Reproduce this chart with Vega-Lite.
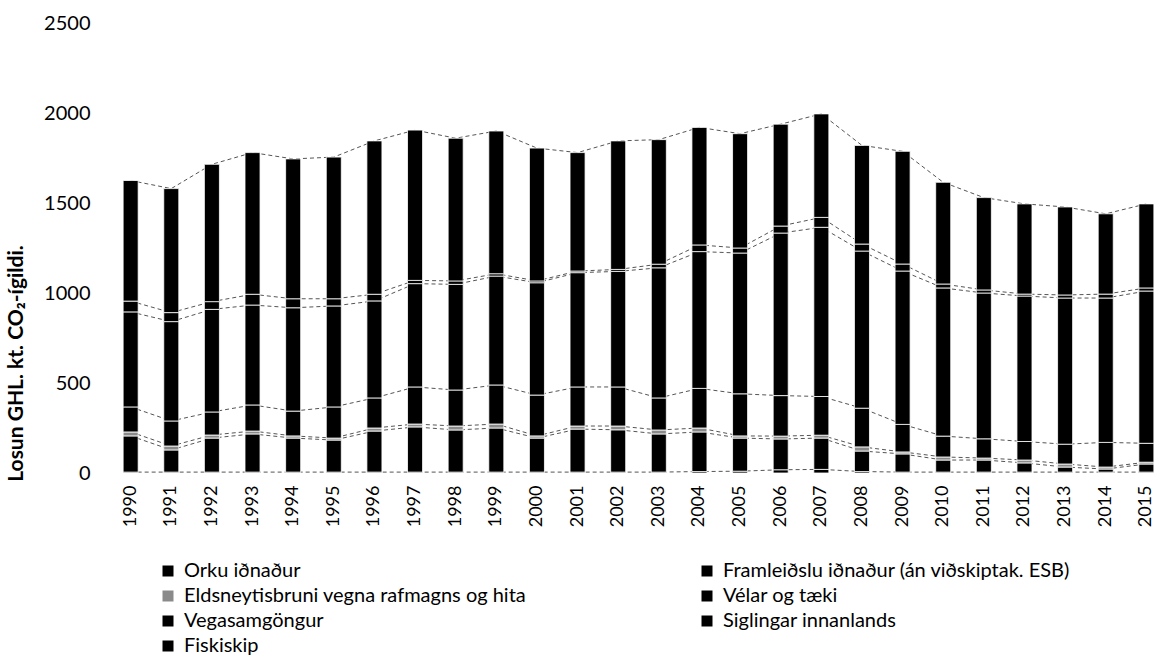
{
  "$schema": "https://vega.github.io/schema/vega-lite/v6.json",
  "autosize": "none",
  "width": 1047,
  "height": 450,
  "padding": {"left": 115, "top": 23, "right": 2, "bottom": 198},
  "background": "white",
  "config": {
    "view": {"stroke": null},
    "font": "Lato",
    "axis": {"labelFont": "Lato", "titleFont": "Lato", "labelColor": "#000", "titleColor": "#000"},
    "legend": {"labelFont": "Lato"}
  },
  "datasets": {
    "series": [
      {"k": "o", "name": "Orku iðnaður", "i": 1},
      {"k": "f", "name": "Framleiðslu iðnaður (án viðskiptak. ESB)", "i": 2},
      {"k": "e", "name": "Eldsneytisbruni vegna rafmagns og hita", "i": 3},
      {"k": "v", "name": "Vélar og tæki", "i": 4},
      {"k": "g", "name": "Vegasamgöngur", "i": 5},
      {"k": "s", "name": "Siglingar innanlands", "i": 6},
      {"k": "fi", "name": "Fiskiskip", "i": 7}
    ]
  },
  "data": {
    "values": [
      {"year": 1990, "o": 5, "f": 201, "e": 22, "v": 139, "g": 528, "s": 60, "fi": 670},
      {"year": 1991, "o": 5, "f": 123, "e": 22, "v": 139, "g": 552, "s": 50, "fi": 689},
      {"year": 1992, "o": 5, "f": 189, "e": 17, "v": 128, "g": 570, "s": 43, "fi": 763},
      {"year": 1993, "o": 5, "f": 212, "e": 16, "v": 145, "g": 555, "s": 60, "fi": 787},
      {"year": 1994, "o": 5, "f": 189, "e": 12, "v": 138, "g": 574, "s": 50, "fi": 777},
      {"year": 1995, "o": 5, "f": 178, "e": 11, "v": 173, "g": 561, "s": 40, "fi": 787},
      {"year": 1996, "o": 5, "f": 228, "e": 17, "v": 167, "g": 539, "s": 37, "fi": 852},
      {"year": 1997, "o": 5, "f": 251, "e": 16, "v": 206, "g": 574, "s": 18, "fi": 835},
      {"year": 1998, "o": 5, "f": 234, "e": 22, "v": 200, "g": 587, "s": 19, "fi": 793},
      {"year": 1999, "o": 5, "f": 245, "e": 22, "v": 217, "g": 605, "s": 13, "fi": 793},
      {"year": 2000, "o": 5, "f": 189, "e": 12, "v": 227, "g": 624, "s": 10, "fi": 738},
      {"year": 2001, "o": 5, "f": 239, "e": 17, "v": 217, "g": 635, "s": 9, "fi": 658},
      {"year": 2002, "o": 5, "f": 235, "e": 21, "v": 217, "g": 642, "s": 11, "fi": 714},
      {"year": 2003, "o": 5, "f": 212, "e": 22, "v": 178, "g": 723, "s": 20, "fi": 692},
      {"year": 2004, "o": 8, "f": 220, "e": 22, "v": 220, "g": 760, "s": 37, "fi": 653},
      {"year": 2005, "o": 10, "f": 184, "e": 12, "v": 234, "g": 782, "s": 28, "fi": 635},
      {"year": 2006, "o": 18, "f": 171, "e": 16, "v": 225, "g": 903, "s": 39, "fi": 566},
      {"year": 2007, "o": 20, "f": 174, "e": 16, "v": 215, "g": 940, "s": 55, "fi": 575},
      {"year": 2008, "o": 8, "f": 114, "e": 23, "v": 215, "g": 873, "s": 39, "fi": 548},
      {"year": 2009, "o": 5, "f": 101, "e": 11, "v": 153, "g": 852, "s": 39, "fi": 626},
      {"year": 2010, "o": 5, "f": 67, "e": 17, "v": 116, "g": 823, "s": 22, "fi": 565},
      {"year": 2011, "o": 5, "f": 67, "e": 11, "v": 107, "g": 810, "s": 17, "fi": 513},
      {"year": 2012, "o": 5, "f": 51, "e": 16, "v": 103, "g": 808, "s": 11, "fi": 501},
      {"year": 2013, "o": 5, "f": 28, "e": 17, "v": 110, "g": 812, "s": 17, "fi": 489},
      {"year": 2014, "o": 5, "f": 17, "e": 11, "v": 137, "g": 802, "s": 22, "fi": 446},
      {"year": 2015, "o": 5, "f": 45, "e": 10, "v": 105, "g": 846, "s": 17, "fi": 467}
    ]
  },
  "transform": [
    {"fold": ["o", "f", "e", "v", "g", "s", "fi"], "as": ["key", "val"]},
    {"lookup": "key", "from": {"data": {"name": "series"}, "key": "k", "fields": ["name", "i"]}},
    {"stack": "val", "groupby": ["year"], "sort": [{"field": "i", "order": "ascending"}], "as": ["y0", "y1"]}
  ],
  "encoding": {
    "x": {
      "field": "year",
      "type": "ordinal",
      "scale": {"paddingInner": 0.63, "paddingOuter": 0.2},
      "axis": {
        "title": null,
        "labelAngle": -90,
        "labelFontSize": 18,
        "labelPadding": 12,
        "domain": false,
        "ticks": false
      }
    }
  },
  "layer": [
    {
      "mark": {"type": "line", "color": "#555", "strokeWidth": 1, "strokeDash": [4, 3]},
      "encoding": {
        "y": {"field": "y1", "type": "quantitative", "scale": {"domain": [0, 2500]}},
        "detail": {"field": "key"}
      }
    },
    {
      "mark": {"type": "bar", "stroke": "white", "strokeWidth": 0.8},
      "encoding": {
        "y": {
          "field": "y1",
          "type": "quantitative",
          "scale": {"domain": [0, 2500]},
          "axis": {
            "title": "Losun GHL. kt. CO₂-ígildi.",
            "titleFontSize": 21,
            "titleFontWeight": "bold",
            "titleX": -89,
            "titleY": 340,
            "titleAngle": -90,
            "values": [0, 500, 1000, 1500, 2000, 2500],
            "format": "d",
            "labelFontSize": 20,
            "labelPadding": 25,
            "domain": false,
            "ticks": false,
            "grid": false
          }
        },
        "y2": {"field": "y0"},
        "color": {
          "field": "name",
          "type": "nominal",
          "scale": {
            "domain": ["Orku iðnaður", "Framleiðslu iðnaður (án viðskiptak. ESB)", "Eldsneytisbruni vegna rafmagns og hita", "Vélar og tæki", "Vegasamgöngur", "Siglingar innanlands", "Fiskiskip"],
            "range": ["#000000", "#000000", "#8a8a8a", "#000000", "#000000", "#000000", "#000000"]
          },
          "legend": {
            "title": null,
            "orient": "none",
            "direction": "horizontal",
            "legendX": 43,
            "legendY": 538,
            "columns": 2,
            "columnPadding": 170,
            "rowPadding": 5,
            "symbolType": "square",
            "symbolSize": 121,
            "symbolStrokeWidth": 0,
            "labelFontSize": 20,
            "labelOffset": 6,
            "labelLimit": 700
          }
        }
      }
    }
  ]
}
